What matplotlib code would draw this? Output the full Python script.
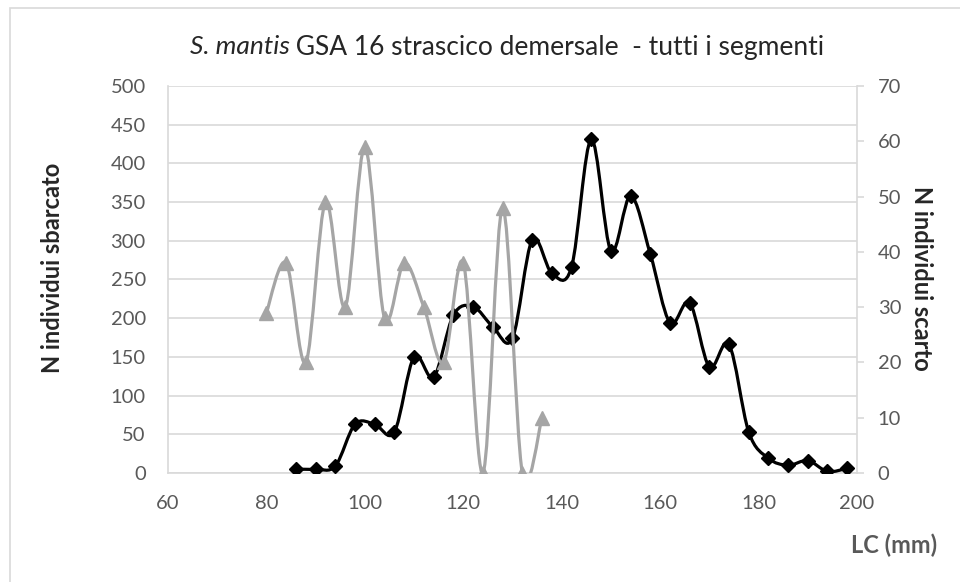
import numpy as np
import matplotlib
matplotlib.use("Agg")
import matplotlib.pyplot as plt
from matplotlib.path import Path
from matplotlib.patches import PathPatch, Rectangle

plt.rcParams['font.family'] = ['Lato', 'DejaVu Sans']

# landed catch (left axis)
lc_sbarcato = [86, 90, 94, 98, 102, 106, 110, 114, 118, 122, 126, 130, 134, 138, 142,
               146, 150, 154, 158, 162, 166, 170, 174, 178, 182, 186, 190, 194, 198]
n_sbarcato = [5, 5, 9, 63, 63, 53, 150, 124, 204, 215, 189, 174, 301, 258, 266,
              431, 287, 358, 283, 194, 220, 137, 166, 53, 19, 10, 16, 2, 6]

# discards (right axis)
lc_scarto = [80, 84, 88, 92, 96, 100, 104, 108, 112, 116, 120, 124, 128, 132, 136]
n_scarto = [29, 38, 20, 49, 30, 59, 28, 38, 30, 20, 38, 0, 48, 0, 10]

x_ticks = [60, 80, 100, 120, 140, 160, 180, 200]
left_ticks = [0, 50, 100, 150, 200, 250, 300, 350, 400, 450, 500]
right_ticks = [0, 10, 20, 30, 40, 50, 60, 70]

TICK_COLOR = '#595959'
GRID_COLOR = '#d9d9d9'
LABEL_COLOR = '#262626'


def smooth_path(xs, ys):
    """Excel-like smoothed line: cubic bezier through the points."""
    pts = np.column_stack([xs, ys]).astype(float)
    verts = [pts[0]]
    codes = [Path.MOVETO]
    n = len(pts)
    for i in range(n - 1):
        p0 = pts[i - 1] if i > 0 else pts[i]
        p1 = pts[i]
        p2 = pts[i + 1]
        p3 = pts[i + 2] if i + 2 < n else pts[i + 1]
        c1 = p1 + (p2 - p0) / 6.0
        c2 = p2 - (p3 - p1) / 6.0
        verts += [c1, c2, p2]
        codes += [Path.CURVE4] * 3
    return Path(verts, codes)


fig = plt.figure(figsize=(9.6, 5.82), dpi=100)
fig.patches.append(Rectangle((10 / 960, -0.05), 1.0, 1 - 8 / 582 + 0.05,
                             transform=fig.transFigure, fill=False,
                             edgecolor=GRID_COLOR, linewidth=1.2))

ax = fig.add_axes([0.175, 0.1873, 0.7177, 0.665])
ax.set_xlim(60, 200)
ax.set_ylim(0, 500)
ax.set_xticks(x_ticks)
ax.set_yticks(left_ticks)
ax.grid(axis='y', color=GRID_COLOR, linewidth=1.2)
ax.set_axisbelow(True)
ax.tick_params(axis='both', length=0, labelsize=14.5, colors=TICK_COLOR)
ax.tick_params(axis='y', pad=16)
ax.tick_params(axis='x', pad=16)
for side in ['top', 'right']:
    ax.spines[side].set_visible(False)
for side in ['left', 'bottom']:
    ax.spines[side].set_color(GRID_COLOR)
    ax.spines[side].set_linewidth(1.2)

ax.add_patch(PathPatch(smooth_path(lc_sbarcato, n_sbarcato), facecolor='none',
                       edgecolor='black', linewidth=2.3, zorder=3))
ax.plot(lc_sbarcato, n_sbarcato, linestyle='none', marker='D', markersize=7.5,
        color='black', zorder=4)

ax2 = ax.twinx()
ax2.set_ylim(0, 70)
ax2.set_yticks(right_ticks)
ax2.tick_params(axis='y', direction='out', length=5, width=1.2, color=GRID_COLOR,
                labelsize=14.5, labelcolor=TICK_COLOR, pad=10)
for side in ['top', 'left', 'bottom']:
    ax2.spines[side].set_visible(False)
ax2.spines['right'].set_color(GRID_COLOR)
ax2.spines['right'].set_linewidth(1.2)

ax2.add_patch(PathPatch(smooth_path(lc_scarto, n_scarto), facecolor='none',
                        edgecolor='#a5a5a5', linewidth=2.3, zorder=3))
ax2.plot(lc_scarto, n_scarto, linestyle='none', marker='^', markersize=9.5,
         color='#a5a5a5', zorder=4)

# axis titles
fig.text(53 / 960, 1 - 268 / 582, 'N individui sbarcato', rotation=90,
         ha='center', va='center', fontsize=17, fontweight='bold', color=LABEL_COLOR)
fig.text(922 / 960, 1 - 278 / 582, 'N individui scarto', rotation=-90,
         ha='center', va='center', fontsize=17, fontweight='bold', color=LABEL_COLOR)
fig.text(937 / 960, 1 - 545 / 582, 'LC (mm)', ha='right', va='center',
         fontsize=17, fontweight='bold', color=TICK_COLOR)

# title: italic species name followed by regular text, centred as one line
title_y = 1 - 47 / 582
t1 = fig.text(0, title_y, 'S. mantis', fontsize=19, fontstyle='italic',
              color=LABEL_COLOR, va='center')
t2 = fig.text(0, title_y, ' GSA 16 strascico demersale  - tutti i segmenti',
              fontsize=19, color=LABEL_COLOR, va='center')
fig.canvas.draw()
r = fig.canvas.get_renderer()
w1 = t1.get_window_extent(r).width / fig.bbox.width
w2 = t2.get_window_extent(r).width / fig.bbox.width
x0 = 507 / 960 - (w1 + w2) / 2
t1.set_x(x0)
t2.set_x(x0 + w1)

fig.savefig('out.png', dpi=100)
